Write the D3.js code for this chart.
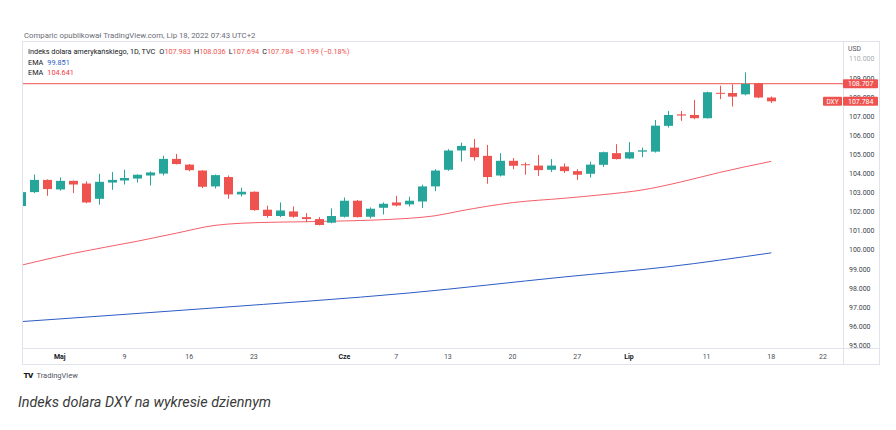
<!DOCTYPE html>
<html>
<head>
<meta charset="utf-8">
<script src="https://cdn.jsdelivr.net/npm/d3@7"></script>
<style>
  body { margin: 0; background: #fff; }
  svg text { font-family: Roboto, "Open Sans", sans-serif; }
</style>
</head>
<body>
<svg id="chart" width="896" height="430"></svg>
<script>
// TVC:DXY daily candles
const dates = [
  "2022-04-27", "2022-04-28", "2022-04-29", "2022-05-02", "2022-05-03", "2022-05-04", "2022-05-05", "2022-05-06",
  "2022-05-09", "2022-05-10", "2022-05-11", "2022-05-12", "2022-05-13", "2022-05-16", "2022-05-17", "2022-05-18",
  "2022-05-19", "2022-05-20", "2022-05-23", "2022-05-24", "2022-05-25", "2022-05-26", "2022-05-27", "2022-05-30",
  "2022-05-31", "2022-06-01", "2022-06-02", "2022-06-03", "2022-06-06", "2022-06-07", "2022-06-08", "2022-06-09",
  "2022-06-10", "2022-06-13", "2022-06-14", "2022-06-15", "2022-06-16", "2022-06-17", "2022-06-20", "2022-06-21",
  "2022-06-22", "2022-06-23", "2022-06-24", "2022-06-27", "2022-06-28", "2022-06-29", "2022-06-30", "2022-07-01",
  "2022-07-04", "2022-07-05", "2022-07-06", "2022-07-07", "2022-07-08", "2022-07-11", "2022-07-12", "2022-07-13",
  "2022-07-14", "2022-07-15", "2022-07-18"
];
const opens = [
  102.30, 103.03, 103.67, 103.17, 103.62, 103.48, 102.68, 103.53, 103.64, 103.74,
  103.90, 104.00, 104.77, 104.47, 104.16, 103.33, 103.82, 102.91, 103.05, 102.11,
  101.78, 102.02, 101.72, 101.62, 101.43, 101.74, 102.58, 101.74, 102.21, 102.49,
  102.39, 102.54, 103.33, 104.20, 105.21, 105.36, 104.93, 103.90, 104.67, 104.49,
  104.42, 104.20, 104.37, 104.13, 103.99, 104.46, 105.07, 104.79, 105.15, 105.15,
  106.50, 107.10, 107.07, 106.90, 108.23, 108.22, 108.15, 108.73, 107.983
];
const highs = [
  103.05, 103.95, 103.70, 103.80, 103.64, 103.59, 103.99, 104.08, 104.20, 103.96,
  104.11, 104.93, 105.03, 104.50, 104.18, 103.95, 103.90, 103.26, 103.07, 102.32,
  102.49, 102.28, 101.93, 101.72, 102.18, 102.75, 102.62, 102.23, 102.49, 102.84,
  102.79, 103.42, 104.23, 105.28, 105.62, 105.82, 105.50, 105.07, 104.81, 104.58,
  104.98, 104.76, 104.53, 104.23, 104.62, 105.15, 105.54, 105.65, 105.36, 106.81,
  107.28, 107.28, 107.86, 108.29, 108.60, 108.68, 109.30, 108.75, 108.036
];
const lows = [
  102.25, 102.98, 102.84, 103.11, 102.98, 102.45, 102.37, 103.15, 103.43, 103.53,
  103.38, 103.90, 104.48, 104.12, 103.24, 103.22, 102.68, 102.80, 102.05, 101.69,
  101.72, 101.69, 101.46, 101.29, 101.40, 101.70, 101.70, 101.65, 101.86, 102.28,
  102.28, 102.20, 103.08, 104.15, 104.63, 104.68, 103.47, 103.85, 104.23, 103.94,
  103.88, 104.08, 104.03, 103.67, 103.80, 104.35, 104.74, 104.76, 104.86, 105.10,
  106.41, 106.76, 106.85, 106.88, 107.90, 107.51, 108.10, 107.95, 107.694
];
const closes = [
  103.03, 103.67, 103.19, 103.62, 103.43, 102.49, 103.57, 103.67, 103.77, 103.94,
  104.06, 104.77, 104.50, 104.18, 103.31, 103.92, 102.91, 103.05, 102.09, 101.78,
  102.07, 101.74, 101.62, 101.31, 101.78, 102.58, 101.72, 102.16, 102.42, 102.33,
  102.58, 103.33, 104.16, 105.21, 105.45, 104.86, 103.82, 104.67, 104.41, 104.44,
  104.18, 104.42, 104.13, 103.94, 104.47, 105.12, 104.76, 105.12, 105.22, 106.51,
  107.07, 107.04, 106.90, 108.26, 108.20, 108.03, 108.69, 107.983, 107.784
];

// EMA lines
const emaRedDates = [
  "2022-04-27", "2022-05-03", "2022-05-10", "2022-05-13", "2022-05-18", "2022-05-20", "2022-05-25",
  "2022-05-27", "2022-06-01", "2022-06-03", "2022-06-08", "2022-06-10", "2022-06-14", "2022-06-20",
  "2022-06-24", "2022-06-29", "2022-07-04", "2022-07-07", "2022-07-12", "2022-07-18"
];
const emaRedValues = [
  99.20, 99.82, 100.46, 100.88, 101.29, 101.40, 101.46,
  101.48, 101.52, 101.56, 101.66, 101.79, 102.05, 102.48,
  102.71, 102.90, 103.14, 103.56, 104.06, 104.641
];
const emaBlueDates = ["2022-04-27", "2022-05-18", "2022-06-08", "2022-06-24", "2022-07-06", "2022-07-18"];
const emaBlueValues = [96.25, 96.97, 97.75, 98.59, 99.12, 99.851];

// axis ticks
const priceTicks = [95, 96, 97, 98, 99, 100, 101, 102, 103, 104, 105, 106, 107, 108, 109, 110];
const timeTickDates = [
  "2022-05-02", "2022-05-09", "2022-05-16", "2022-05-23", "2022-06-01", "2022-06-07", "2022-06-13",
  "2022-06-20", "2022-06-27", "2022-07-01", "2022-07-11", "2022-07-18", "2022-07-22"
];
const timeTickLabels = ["Maj", "9", "16", "23", "Cze", "7", "13", "20", "27", "Lip", "11", "18", "22"];
const monthLabels = ["Maj", "Cze", "Lip"];

const levelPrice = 108.707;
const emaBlueLast = 99.851;
const emaRedLast = 104.641;

// layout
const frame = { left: 22.5, top: 41.5, right: 879.5, bottom: 364.5 };
const plot = { left: 23, top: 42, right: 843, bottom: 348 };
const colors = {
  up: "#26a69a",
  down: "#ef5350",
  emaRed: "#f23645",
  emaBlue: "#2c5cc5",
  border: "#e0e3eb",
  text: "#131722",
  muted: "#6a6d78"
};

const svg = d3.select("#chart");
const fmt = d3.format(".3f");

// every weekday from the first candle to the last time tick
const dayKeys = d3.timeDay
  .range(new Date(2022, 3, 27), new Date(2022, 6, 23))
  .filter(function(d) { return d.getDay() % 6 !== 0; })
  .map(d3.timeFormat("%Y-%m-%d"));

const xScale = d3.scaleLinear().domain([0, 62]).range([21, 823]);
const yScale = d3.scaleLinear().domain([95, 110]).range([345.5, 59]);
function xOf(dateKey) {
  return xScale(dayKeys.indexOf(dateKey));
}

// header
svg.append("text")
  .attr("x", 24).attr("y", 37.5)
  .attr("font-size", 7.8).attr("fill", colors.muted)
  .text("Comparic opublikował TradingView.com, Lip 18, 2022 07:43 UTC+2");

// frame
svg.append("rect")
  .attr("x", frame.left).attr("y", frame.top)
  .attr("width", frame.right - frame.left).attr("height", frame.bottom - frame.top)
  .attr("fill", "#fff").attr("stroke", colors.border);
svg.append("line")
  .attr("x1", plot.right + 0.5).attr("x2", plot.right + 0.5)
  .attr("y1", frame.top).attr("y2", frame.bottom)
  .attr("stroke", colors.border);
svg.append("line")
  .attr("x1", frame.left).attr("x2", frame.right)
  .attr("y1", plot.bottom + 0.5).attr("y2", plot.bottom + 0.5)
  .attr("stroke", colors.border);

svg.append("clipPath").attr("id", "plot-clip")
  .append("rect")
  .attr("x", plot.left).attr("y", plot.top)
  .attr("width", plot.right - plot.left).attr("height", plot.bottom - plot.top);
svg.append("clipPath").attr("id", "price-clip")
  .append("rect")
  .attr("x", plot.right).attr("y", plot.top)
  .attr("width", frame.right - plot.right).attr("height", plot.bottom - plot.top);

const plotG = svg.append("g").attr("clip-path", "url(#plot-clip)");

// EMA lines
const line = d3.line()
  .x(function(d) { return xOf(d[0]); })
  .y(function(d) { return yScale(d[1]); })
  .curve(d3.curveMonotoneX);

plotG.append("path")
  .attr("d", line(d3.zip(emaBlueDates, emaBlueValues)))
  .attr("fill", "none").attr("stroke", colors.emaBlue).attr("stroke-width", 1);
plotG.append("path")
  .attr("d", line(d3.zip(emaRedDates, emaRedValues)))
  .attr("fill", "none").attr("stroke", colors.emaRed).attr("stroke-width", 1).attr("opacity", 0.8);

// horizontal level
plotG.append("line")
  .attr("x1", plot.left).attr("x2", plot.right)
  .attr("y1", yScale(levelPrice)).attr("y2", yScale(levelPrice))
  .attr("stroke", colors.down).attr("stroke-width", 1.3).attr("opacity", 0.8);

// candles
const candles = dates.map(function(d, i) {
  return { date: d, o: opens[i], h: highs[i], l: lows[i], c: closes[i] };
});
const bodyWidth = 9;

const candleG = plotG.selectAll(".candle")
  .data(candles)
  .enter()
  .append("g")
  .attr("class", "candle");

candleG.append("line")
  .attr("x1", function(d) { return Math.round(xOf(d.date)) + 0.5; })
  .attr("x2", function(d) { return Math.round(xOf(d.date)) + 0.5; })
  .attr("y1", function(d) { return yScale(d.h); })
  .attr("y2", function(d) { return yScale(d.l); })
  .attr("stroke", function(d) { return d.c >= d.o ? colors.up : colors.down; })
  .attr("stroke-width", 1);

candleG.append("rect")
  .attr("x", function(d) { return Math.round(xOf(d.date)) + 0.5 - bodyWidth / 2; })
  .attr("y", function(d) { return yScale(Math.max(d.o, d.c)); })
  .attr("width", bodyWidth)
  .attr("height", function(d) {
    return Math.max(1, yScale(Math.min(d.o, d.c)) - yScale(Math.max(d.o, d.c)));
  })
  .attr("fill", function(d) { return d.c >= d.o ? colors.up : colors.down; });

// price axis
const priceG = svg.append("g").attr("clip-path", "url(#price-clip)");
priceG.selectAll(".price-tick")
  .data(priceTicks)
  .enter()
  .append("text")
  .attr("class", "price-tick")
  .attr("x", 849)
  .attr("y", function(d) { return yScale(d); })
  .attr("dy", "0.35em")
  .attr("font-size", 7)
  .attr("fill", "#3b3f4a")
  .attr("opacity", function(d) { return d === 110 ? 0.45 : 1; })
  .text(function(d) { return fmt(d); });

svg.append("rect")
  .attr("x", 844).attr("y", 43).attr("width", 34).attr("height", 10).attr("fill", "#fff");
svg.append("text")
  .attr("x", 848).attr("y", 51)
  .attr("font-size", 6.8).attr("fill", "#50535e")
  .text("USD");

function priceLabel(value, tag) {
  const y = yScale(value);
  svg.append("rect")
    .attr("x", 843).attr("y", y - 4.5).attr("width", 35).attr("height", 9)
    .attr("rx", 1).attr("fill", colors.down);
  svg.append("text")
    .attr("x", 848).attr("y", y).attr("dy", "0.35em")
    .attr("font-size", 7).attr("fill", "#fff")
    .text(fmt(value));
  if (tag) {
    svg.append("rect")
      .attr("x", 823).attr("y", y - 4.5).attr("width", 19).attr("height", 9)
      .attr("rx", 1).attr("fill", colors.down);
    svg.append("text")
      .attr("x", 832.5).attr("y", y).attr("dy", "0.35em")
      .attr("text-anchor", "middle")
      .attr("font-size", 6.5).attr("fill", "#fff")
      .text(tag);
  }
}
priceLabel(levelPrice, null);
priceLabel(closes[closes.length - 1], "DXY");

// time axis
svg.selectAll(".time-tick")
  .data(d3.zip(timeTickDates, timeTickLabels))
  .enter()
  .append("text")
  .attr("class", "time-tick")
  .attr("x", function(d) { return xOf(d[0]); })
  .attr("y", 358.5)
  .attr("text-anchor", "middle")
  .attr("font-size", 7)
  .attr("font-weight", function(d) { return monthLabels.indexOf(d[1]) >= 0 ? "bold" : "normal"; })
  .attr("fill", function(d) { return monthLabels.indexOf(d[1]) >= 0 ? colors.text : "#4a4d57"; })
  .text(function(d) { return d[1]; });

// legend
const last = candles.length - 1;
const change = closes[last] - closes[last - 1];
const legend = svg.append("text")
  .attr("x", 28).attr("y", 54)
  .attr("font-size", 7.3).attr("fill", colors.text);
legend.append("tspan").text("Indeks dolara amerykańskiego, 1D, TVC");
[["O", opens[last]], ["H", highs[last]], ["L", lows[last]], ["C", closes[last]]].forEach(function(p, i) {
  legend.append("tspan").attr("dx", i === 0 ? 4 : 3).text(p[0]);
  legend.append("tspan").attr("fill", colors.down).text(fmt(p[1]));
});
legend.append("tspan")
  .attr("dx", 3).attr("fill", colors.down)
  .text(d3.format(".3f")(change).replace("-", "−") + " (" +
    d3.format(".2f")(change / closes[last - 1] * 100).replace("-", "−") + "%)");

[[emaBlueLast, colors.emaBlue, 64.5], [emaRedLast, colors.emaRed, 75]].forEach(function(e) {
  const t = svg.append("text")
    .attr("x", 28).attr("y", e[2])
    .attr("font-size", 7.3).attr("fill", colors.text);
  t.append("tspan").text("EMA");
  t.append("tspan").attr("dx", 4).attr("fill", e[1]).text(fmt(e[0]));
});

// TradingView mark
svg.append("text")
  .attr("x", 23.5).attr("y", 378)
  .attr("font-size", 8).attr("font-weight", 900).attr("fill", colors.text)
  .attr("letter-spacing", -0.6)
  .text("TV");
svg.append("text")
  .attr("x", 36.5).attr("y", 378)
  .attr("font-size", 7.5).attr("fill", "#50535e")
  .text("TradingView");

// caption
svg.append("text")
  .attr("x", 18).attr("y", 407)
  .attr("font-size", 14.4).attr("font-style", "italic").attr("fill", "#3a3a3a")
  .text("Indeks dolara DXY na wykresie dziennym");
</script>
</body>
</html>
